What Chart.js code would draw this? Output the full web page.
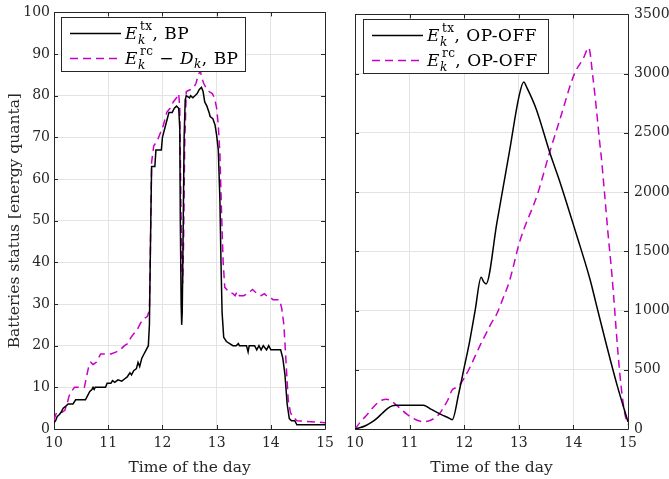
<!DOCTYPE html>
<html>
<head>
<meta charset="utf-8">
<script src="https://cdn.jsdelivr.net/npm/chart.js@4.4.1/dist/chart.umd.min.js"></script>
<style>
  html, body { margin: 0; padding: 0; background: #fff; }
  #wrap { position: relative; width: 669px; height: 479px; }
  canvas { position: absolute; top: 0; }
  #left { left: 0; }
  #right { left: 340px; }
</style>
</head>
<body>
<div id="wrap">
  <canvas id="left" width="340" height="479"></canvas>
  <canvas id="right" width="329" height="479"></canvas>
</div>
<script>
// --- BP battery levels (energy quanta) ---
const bpTxTime = [10.00,10.03,10.06,10.10,10.13,10.17,10.22,10.26,10.35,10.40,10.58,10.62,10.66,10.70,10.72,10.74,10.76,10.80,10.95,10.98,
  11.05,11.08,11.12,11.18,11.25,11.30,11.35,11.40,11.43,11.47,11.52,11.55,11.58,11.62,11.66,11.70,11.74,11.76,11.78,11.80,
  11.86,11.88,11.98,12.00,12.04,12.08,12.12,12.18,12.22,12.26,12.30,12.32,12.33,12.345,12.355,12.365,12.38,12.40,12.42,12.44,
  12.50,12.52,12.56,12.60,12.64,12.68,12.72,12.75,12.78,12.82,12.86,12.88,12.93,12.97,13.00,13.03,13.06,13.08,13.10,13.13,
  13.18,13.24,13.30,13.36,13.40,13.42,13.55,13.58,13.60,13.70,13.74,13.78,13.82,13.86,13.92,13.96,14.00,14.18,14.22,14.26,
  14.30,14.34,14.38,14.44,14.48,15.00];
const bpTx = [1.5,2,3,3.5,4,5,5.5,6,6,7,7,8,9,9.5,10,9.5,10,10,10,11,
  11,11.6,11.2,11.8,11.5,12,12.5,13.5,13,14,14.5,16,15,17,18,19,20,25,45,63,
  63,67,67,70,72,74,76,76,77,77.5,77,72,50,30,25,28,45,70,79,80,
  79.5,80,79.5,80,80.5,81.5,82,81,78.5,77.5,76,75,74.5,73,70.5,67,55,40,28,22,
  21,20.5,20,20,20.5,20,20,18.5,20,20,19,20,19,20,19,20,19,19,17,13,
  6,2.5,2,2,1,1];

const bpRcTime = [10.00,10.02,10.05,10.15,10.20,10.24,10.28,10.32,10.38,10.56,10.60,10.64,10.68,10.72,10.78,10.82,10.86,11.05,11.15,11.22,
  11.30,11.36,11.42,11.48,11.54,11.60,11.66,11.72,11.76,11.78,11.80,11.84,11.90,11.96,12.02,12.08,12.14,12.20,12.26,12.30,
  12.32,12.34,12.36,12.375,12.39,12.41,12.44,12.52,12.58,12.62,12.66,12.70,12.72,12.76,12.80,12.86,12.92,12.96,13.00,13.03,
  13.06,13.09,13.12,13.15,13.22,13.30,13.34,13.38,13.42,13.50,13.56,13.62,13.66,13.70,13.76,13.82,13.88,13.92,14.00,14.04,
  14.16,14.20,14.24,14.28,14.32,14.36,14.40,14.48,15.00];
const bpRc = [2,3,4,4,4.5,6,8,9,10,10,12.5,15,16,15.5,16,17,18,18,18.5,19,
  20,20.5,22,23,24,25.5,26.5,27,28.5,45,64,68,69,71,73,76,77,78.5,79.5,80.5,
  77,55,38,35,45,68,81,81.5,82,83,85,86,84.5,83,82,81,80.5,79.5,77,73,
  66,52,40,34,33,32.5,32,33,32,32,32.5,33,33.5,33,32.5,32,32.5,32,31.5,31,
  31,29,25,16,7,4,3,2,1.5];

// --- OP-OFF battery levels ---
const offTxTime = [10.0,10.1,10.2,10.3,10.4,10.5,10.6,10.68,10.75,11.0,11.25,11.32,11.4,11.5,11.6,11.7,11.78,11.9,12.0,12.1,
  12.2,12.31,12.36,12.4,12.6,12.83,13.0,13.09,13.15,13.32,13.57,13.75,14.05,14.3,14.42,14.6,14.8,15.0];
const offTx = [0,12,30,55,90,133,175,195,200,200,200,188,165,140,117,97,78,300,520,740,
  1000,1280,1240,1225,1745,2345,2800,2930,2880,2700,2330,2090,1650,1270,1050,720,370,60];

const offRcTime = [10.0,10.1,10.2,10.3,10.4,10.5,10.58,10.65,10.75,10.85,10.95,11.05,11.15,11.25,11.35,11.45,11.55,11.62,11.7,11.78,
  11.85,11.92,12.0,12.1,12.2,12.3,12.4,12.5,12.6,12.7,12.83,13.02,13.35,13.56,13.75,14.02,14.18,14.28,14.36,14.42,
  14.48,14.51,14.57,14.63,14.71,14.73,14.85,14.94,15.0];
const offRc = [0,60,110,165,215,245,252,240,205,165,125,95,72,62,68,90,130,180,245,330,
  350,375,430,515,615,715,805,895,975,1090,1251,1587,1993,2328,2609,3000,3126,3218,2958,2706,
  2426,2300,1993,1671,1279,1161,467,133,40];

const xTicks = [10, 11, 12, 13, 14, 15];

const INK = '#262626';
const MAGENTA = '#c800c8';
const FONT = '"DejaVu Serif", "Liberation Serif", serif';
const FS = 14;     // tick labels
const FT = 15.5;   // axis titles

const zip = (xs, ys) => xs.map((x, i) => ({ x, y: ys[i] }));

// Axes box with inward ticks on all four sides
const boxTicks = {
  id: 'boxTicks',
  beforeDatasetsDraw(chart) {
    const { ctx, chartArea: a } = chart;
    const xs = chart.scales.x, ys = chart.scales.y;
    const L = 4;
    ctx.save();
    ctx.strokeStyle = INK;
    ctx.lineWidth = 1;
    ctx.beginPath();
    xs.ticks.forEach(t => {
      const px = Math.round(xs.getPixelForValue(t.value)) + 0.5;
      ctx.moveTo(px, a.bottom); ctx.lineTo(px, a.bottom - L);
      ctx.moveTo(px, a.top); ctx.lineTo(px, a.top + L);
    });
    ys.ticks.forEach(t => {
      const py = Math.round(ys.getPixelForValue(t.value)) + 0.5;
      ctx.moveTo(a.left, py); ctx.lineTo(a.left + L, py);
      ctx.moveTo(a.right, py); ctx.lineTo(a.right - L, py);
    });
    ctx.rect(Math.round(a.left) + 0.5, Math.round(a.top) + 0.5,
      Math.round(a.right - a.left), Math.round(a.bottom - a.top));
    ctx.stroke();
    ctx.restore();
  }
};

// E^{tx}_k style text: parts are plain runs or stacked sub/sup scripts
function drawMath(ctx, parts, x, base) {
  const big = 17, small = 12;
  ctx.textBaseline = 'alphabetic';
  ctx.textAlign = 'left';
  ctx.fillStyle = '#000';
  ctx.letterSpacing = '0.5px';
  parts.forEach(p => {
    if (p.t !== undefined) {
      ctx.font = (p.i ? 'italic ' : '') + big + 'px ' + FONT;
      ctx.fillText(p.t, x, base);
      x += ctx.measureText(p.t).width + (p.i ? 1 : 0);
    } else {
      let w = 0;
      if (p.sup) {
        ctx.font = small + 'px ' + FONT;
        ctx.fillText(p.sup, x + 1, base - 9);
        w = Math.max(w, ctx.measureText(p.sup).width + 1);
      }
      if (p.sub) {
        ctx.font = 'italic ' + small + 'px ' + FONT;
        ctx.fillText(p.sub, x - 1, base + (p.sup ? 5 : 4));
        w = Math.max(w, ctx.measureText(p.sub).width - 1);
      }
      x += w;
    }
  });
}

const mathLegend = {
  id: 'mathLegend',
  afterDraw(chart, args, opts) {
    const { ctx, chartArea: a } = chart;
    const x0 = Math.round(a.left + opts.offsetX), y0 = Math.round(a.top + opts.offsetY);
    ctx.save();
    ctx.fillStyle = '#fff';
    ctx.fillRect(x0, y0, opts.width, opts.height);
    ctx.strokeStyle = INK;
    ctx.lineWidth = 1;
    ctx.strokeRect(x0 + 0.5, y0 + 0.5, opts.width, opts.height);
    opts.items.forEach((item, i) => {
      const base = y0 + 22 + i * 25;
      const ly = base - 5.5;
      ctx.strokeStyle = item.color;
      ctx.lineWidth = 1.5;
      ctx.setLineDash(item.dash || []);
      ctx.beginPath();
      ctx.moveTo(x0 + 9, ly);
      ctx.lineTo(x0 + 60, ly);
      ctx.stroke();
      ctx.setLineDash([]);
      drawMath(ctx, item.parts, x0 + 64, base);
    });
    ctx.restore();
  }
};

function lineSet(data, color, dash, smooth) {
  return {
    data, borderColor: color, borderWidth: 1.5, borderDash: dash || [],
    pointRadius: 0, fill: false,
    tension: 0, cubicInterpolationMode: smooth ? 'monotone' : 'default'
  };
}

function xScale() {
  return {
    type: 'linear', min: 10, max: 15,
    afterBuildTicks: s => { s.ticks = xTicks.map(v => ({ value: v })); },
    afterFit: s => { s.height = 50; },
    grid: { color: '#e3e3e3', drawTicks: false },
    border: { display: false },
    ticks: { padding: 6, color: INK, font: { family: FONT, size: FS }, callback: v => String(v) },
    title: { display: true, text: 'Time of the day', color: INK, font: { family: FONT, size: FT }, padding: { top: 0, bottom: 2 } }
  };
}

function baseOptions() {
  return {
    responsive: false, animation: false, devicePixelRatio: 1,
    plugins: { legend: { display: false }, tooltip: { enabled: false } }
  };
}

const leftOpts = baseOptions();
leftOpts.layout = { padding: { left: 0, right: 12, top: 12, bottom: 0 } };
leftOpts.scales = {
  x: xScale(),
  y: {
    type: 'linear', min: 0, max: 100,
    ticks: { stepSize: 10, padding: 4, color: INK, font: { family: FONT, size: FS }, callback: v => String(v) },
    afterFit: s => { s.width = 54; },
    grid: { color: '#e3e3e3', drawTicks: false },
    border: { display: false },
    title: { display: true, text: 'Batteries status [energy quanta]', color: INK, font: { family: FONT, size: FT }, padding: { top: 6, bottom: 0 } }
  }
};
leftOpts.plugins.mathLegend = {
  offsetX: 7, offsetY: 5, width: 184, height: 54,
  items: [
    { color: '#000', parts: [{ t: 'E', i: true }, { sub: 'k', sup: 'tx' }, { t: ', BP' }] },
    { color: MAGENTA, dash: [8, 5], parts: [{ t: 'E', i: true }, { sub: 'k', sup: 'rc' }, { t: ' \u2212 ' }, { t: 'D', i: true }, { sub: 'k' }, { t: ', BP' }] }
  ]
};

new Chart(document.getElementById('left'), {
  type: 'line',
  data: {
    datasets: [
      lineSet(zip(bpTxTime, bpTx), '#000'),
      lineSet(zip(bpRcTime, bpRc), MAGENTA, [8, 5])
    ]
  },
  options: leftOpts,
  plugins: [boxTicks, mathLegend]
});

const rightOpts = baseOptions();
rightOpts.layout = { padding: { left: 15, right: 0, top: 12, bottom: 0 } };
rightOpts.scales = {
  x: xScale(),
  y: {
    type: 'linear', position: 'right', min: 0, max: 3500,
    ticks: { stepSize: 500, padding: 6, color: INK, font: { family: FONT, size: FS }, callback: v => String(v) },
    afterFit: s => { s.width = 41; },
    grid: { color: '#e3e3e3', drawTicks: false },
    border: { display: false }
  }
};
rightOpts.plugins.mathLegend = {
  offsetX: 8, offsetY: 5, width: 185, height: 54,
  items: [
    { color: '#000', parts: [{ t: 'E', i: true }, { sub: 'k', sup: 'tx' }, { t: ', OP-OFF' }] },
    { color: MAGENTA, dash: [8, 5], parts: [{ t: 'E', i: true }, { sub: 'k', sup: 'rc' }, { t: ', OP-OFF' }] }
  ]
};

new Chart(document.getElementById('right'), {
  type: 'line',
  data: {
    datasets: [
      lineSet(zip(offTxTime, offTx), '#000', null, true),
      lineSet(zip(offRcTime, offRc), MAGENTA, [8, 5], true)
    ]
  },
  options: rightOpts,
  plugins: [boxTicks, mathLegend]
});
</script>
</body>
</html>
